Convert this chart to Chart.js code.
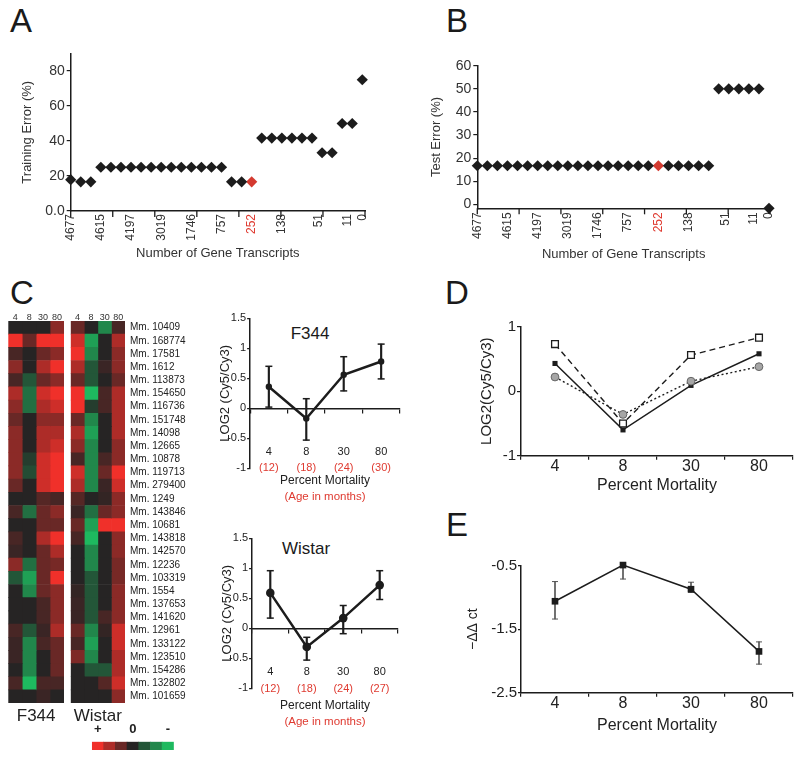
<!DOCTYPE html>
<html>
<head>
<meta charset="utf-8">
<script src="https://cdn.jsdelivr.net/npm/chart.js@4.4.1/dist/chart.umd.min.js"></script>
<style>
body { margin: 0; background: #fff; }
#fig { position: relative; width: 800px; height: 759px; overflow: hidden; font-family: 'Liberation Sans', Arial, Helvetica, sans-serif; color: #1a1a1a; }
#fig canvas { position: absolute; }
.lab { position: absolute; line-height: 1; white-space: nowrap; }
.mid { transform: translate(-50%, -50%); }
</style>
</head>
<body>
<div id="fig">
  <div class="lab" style="left:10px;top:4px;font-size:33px">A</div>
  <div class="lab" style="left:446px;top:4px;font-size:33px">B</div>
  <div class="lab" style="left:10px;top:276px;font-size:33px">C</div>
  <div class="lab" style="left:445px;top:276px;font-size:33px">D</div>
  <div class="lab" style="left:446px;top:508px;font-size:33px">E</div>
  <div class="lab mid" style="left:310px;top:333px;font-size:17px">F344</div>
  <div class="lab mid" style="left:306px;top:548px;font-size:17px">Wistar</div>
</div>
<script>
// ---- data ----
// A / B : error vs number of transcripts kept (30 steps, red = 252 transcripts)
var trainingError = [17.9, 16.7, 16.7, 25, 25, 25, 25, 25, 25, 25, 25, 25, 25, 25, 25, 25,
                     16.7, 16.7, 16.7, 41.7, 41.7, 41.7, 41.7, 41.7, 41.7, 33.3, 33.3, 50, 50, 75];
var testError = [16.7, 16.7, 16.7, 16.7, 16.7, 16.7, 16.7, 16.7, 16.7, 16.7, 16.7, 16.7, 16.7, 16.7, 16.7, 16.7,
                 16.7, 16.7, 16.7, 16.7, 16.7, 16.7, 16.7, 16.7, 50, 50, 50, 50, 50, -1.7];
var highlightIndex = 18;
var geneTickPos = [0, 3, 6, 9, 12, 15, 18, 21, 24.7, 27.5, 29];
var geneTickLabels = ['4677', '4615', '4197', '3019', '1746', '757', '252', '138', '51', '11', '0'];

// C : heat map (+ red, 0 black, - green)
var mortalityCols = ['4', '8', '30', '80'];
var probeIds = ['Mm. 10409', 'Mm. 168774', 'Mm. 17581', 'Mm. 1612', 'Mm. 113873', 'Mm. 154650',
  'Mm. 116736', 'Mm. 151748', 'Mm. 14098', 'Mm. 12665', 'Mm. 10878', 'Mm. 119713', 'Mm. 279400',
  'Mm. 1249', 'Mm. 143846', 'Mm. 10681', 'Mm. 143818', 'Mm. 142570', 'Mm. 12236', 'Mm. 103319',
  'Mm. 1554', 'Mm. 137653', 'Mm. 141620', 'Mm. 12961', 'Mm. 133122', 'Mm. 123510', 'Mm. 154286',
  'Mm. 132802', 'Mm. 101659'];
var f344Expr = [
  [0, 0, 0, 1.5], [3, 1, 3, 3], [0.5, 0, 1, 1.5], [1.5, 0, 2, 3], [0.5, -1, 1, 1.5],
  [2, -1.5, 2.5, 3], [1.5, -1.5, 2, 2.5], [1, 0, 1.5, 1.5], [1.5, 0, 2, 2], [1.5, 0, 2, 2.5],
  [1.5, -0.5, 2.5, 3], [1.5, -0.8, 2.5, 3], [1, 0, 2.5, 3], [0, 0, 0.7, 0.5], [0.5, -1.5, 1, 1.5],
  [0, 0, 1, 1], [0.5, 0, 2, 3], [0.3, 0, 1, 2], [1.5, -1.5, 1, 1.2], [-1, -2.5, 1, 3],
  [0, -2, 1, 1.5], [0, 0, 0.5, 1.5], [0, 0, 0.5, 1.5], [0.5, -1, 0.3, 2], [0.3, -2, 0.5, 1],
  [0.3, -2, 0, 1], [0, -2, 0, 1], [0.5, -3, 0.5, 0.5], [0, 0, 0.3, 0]
];
var wistarExpr = [
  [1, 0, -2, 0.5], [2.5, -2.5, 0, 2], [3, -2, 0, 1.5], [2, -1, 0.3, 1.5], [1, -1, 0, 1],
  [3, -3, 0.5, 2], [3, -0.5, 0.5, 2], [1, -2, 0, 2], [2, -2.5, 0, 2], [1.5, -2, 0, 1.5],
  [0.5, -2, 0.5, 1.5], [2.5, -2, 1, 3], [2, -2, 0.3, 2.5], [0.7, 0, 0.2, 1.5], [0.3, -1.5, 1, 1.5],
  [1, -2.5, 3, 3], [0.5, -3, 0, 1.5], [0, -2, 0, 1.5], [0, -2, 0, 1.2], [0, -1, 0, 1.2],
  [0.2, -1, 0, 1.5], [0.3, -1, 0, 1.5], [0.3, -1, 0.5, 1.5], [1, -2, 0.2, 2.5], [0.5, -2.5, 0, 2.5],
  [1.3, -2, 0, 2], [0, -1, -1, 2], [0, 0, 0.7, 2.5], [0, 0, 0, 1.5]
];
var scaleLabels = ['+', '', '', '0', '', '', '-'];
var scaleValues = [3, 2, 1, 0, -1, -2, -3];

// C : line plots
var mortality = ['4', '8', '30', '80'];
var f344Age = ['(12)', '(18)', '(24)', '(30)'];
var f344Mean = [0.36, -0.17, 0.56, 0.78];
var f344Upper = [0.70, 0.16, 0.86, 1.07];
var f344Lower = [0.02, -0.53, 0.29, 0.49];
var wistarAge = ['(12)', '(18)', '(24)', '(27)'];
var wistarMean = [0.59, -0.31, 0.17, 0.72];
var wistarUpper = [0.96, -0.15, 0.38, 0.96];
var wistarLower = [0.17, -0.53, -0.09, 0.48];

// D : three transcripts
var openSquare = [0.73, -0.50, 0.56, 0.83];
var filledSquare = [0.43, -0.60, 0.09, 0.58];
var grayCircle = [0.22, -0.36, 0.155, 0.38];

// E : qPCR
var ddctMean = [-1.06, -0.49, -0.87, -1.85];
var ddctUpper = [-0.75, -0.28, -0.76, -1.70];
var ddctLower = [-1.34, -0.71, -0.92, -2.05];

var INK = '#1c1c1c';
var RED = '#df3a30';

Chart.defaults.font.family = "'Liberation Sans', Arial, Helvetica, sans-serif";
Chart.defaults.color = '#222';
Chart.defaults.animation = false;
Chart.defaults.responsive = false;
Chart.defaults.plugins.legend.display = false;
Chart.defaults.plugins.tooltip.enabled = false;

function makeCanvas(left, top, w, h) {
  var c = document.createElement('canvas');
  c.width = w; c.height = h;
  c.style.left = left + 'px'; c.style.top = top + 'px';
  c.style.width = w + 'px'; c.style.height = h + 'px';
  document.getElementById('fig').appendChild(c);
  return c;
}

function fixedTicks(list) {
  return function(s) { s.ticks = list.map(function(v) { return {value: v}; }); };
}

// evenly spaced tick marks under the x axis of A and B
var axisMarks = {
  id: 'axisMarks',
  afterDraw: function(chart) {
    var x = chart.scales.x, ctx = chart.ctx;
    ctx.save();
    ctx.strokeStyle = INK; ctx.lineWidth = 1.3;
    for (var k = 0; k <= 7; k++) {
      var px = x.getPixelForValue(x.max * k / 7);
      ctx.beginPath(); ctx.moveTo(px, x.top); ctx.lineTo(px, x.top + 6); ctx.stroke();
    }
    ctx.restore();
  }
};

function scatterPanel(o) {
  var black = [], red = [];
  o.values.forEach(function(v, i) {
    (i === highlightIndex ? red : black).push({x: i, y: v});
  });
  var pt = {pointStyle: 'rectRot', pointRadius: 5.6, borderWidth: 0, clip: false};
  return new Chart(makeCanvas(o.left, o.top, o.w, o.h), {
    type: 'scatter',
    data: {datasets: [
      Object.assign({data: black, backgroundColor: INK, borderColor: INK}, pt),
      Object.assign({data: red, backgroundColor: '#d43a30', borderColor: '#d43a30'}, pt)
    ]},
    options: {
      layout: {padding: o.padding},
      scales: {
        x: {
          type: 'linear', min: 0, max: o.xMax,
          grid: {display: false, drawTicks: false},
          border: {color: INK, width: 1.5},
          afterBuildTicks: fixedTicks(geneTickPos),
          afterFit: function(s) { s.height = o.xAxisH; },
          ticks: {
            autoSkip: false, minRotation: 90, maxRotation: 90, padding: o.xPad,
            font: {size: 12},
            color: function(c) { return c.tick && c.tick.value === highlightIndex ? RED : '#333'; },
            callback: function(v, i) { return geneTickLabels[i]; }
          },
          title: {display: true, text: 'Number of Gene Transcripts', font: {size: 13}, color: '#333', padding: {top: 0, bottom: 4}}
        },
        y: {
          min: o.yMin, max: o.yMax,
          grid: {drawOnChartArea: false, tickLength: 4, color: INK, lineWidth: 1.2},
          border: {color: INK, width: 1.5},
          afterBuildTicks: fixedTicks(o.yTicks),
          afterFit: function(s) { s.width = o.yAxisW; },
          ticks: {padding: 2, font: {size: 14}, color: '#333', callback: o.yLabel},
          title: {display: true, text: o.yTitle, font: {size: 13}, color: '#333', padding: {top: o.yTitlePad, bottom: 0}}
        }
      }
    },
    plugins: [axisMarks]
  });
}

scatterPanel({
  left: 0, top: 40, w: 395, h: 230, values: trainingError,
  padding: {left: 0, top: 13.5, right: 30, bottom: 5},
  xMax: 29.27, xAxisH: 54, xPad: 3, yAxisW: 70.7,
  yMin: 0, yMax: 90, yTicks: [0, 10, 20, 30, 40, 50, 60, 70, 80, 90],
  yLabel: function(v) { return v === 0 ? '0.0' : (v % 20 === 0 && v < 90 ? String(v) : ''); },
  yTitle: 'Training Error (%)', yTitlePad: 20
});

scatterPanel({
  left: 400, top: 40, w: 400, h: 230, values: testError,
  padding: {left: 0, top: 25.7, right: 30, bottom: 4.2},
  xMax: 29.1, xAxisH: 57.5, xPad: 4, yAxisW: 77.3,
  yMin: -1.7, yMax: 60, yTicks: [0, 10, 20, 30, 40, 50, 60],
  yLabel: function(v) { return String(v); },
  yTitle: 'Test Error (%)', yTitlePad: 29
});

// ---- C : heat maps ----
function exprColor(v) {
  var zero = [38, 36, 36], hi = [240, 48, 42], lo = [30, 185, 95];
  var t = Math.min(Math.abs(v) / 3, 1), end = v >= 0 ? hi : lo;
  return 'rgb(' + zero.map(function(z, k) { return Math.round(z + (end[k] - z) * t); }).join(',') + ')';
}

function heatmapPanel(o) {
  return new Chart(makeCanvas(o.left, o.top, o.w, o.h), {
    type: 'bar',
    data: {
      labels: probeIds,
      datasets: mortalityCols.map(function(col, j) {
        return {
          data: probeIds.map(function() { return [j, j + 1]; }),
          backgroundColor: o.values.map(function(row) { return exprColor(row[j]); }),
          borderWidth: 0, grouped: false, categoryPercentage: 1, barPercentage: 1
        };
      })
    },
    options: {
      indexAxis: 'y',
      layout: {padding: o.padding},
      scales: {
        x: {
          type: 'linear', position: 'top', min: 0, max: 4,
          grid: {display: false, drawTicks: false}, border: {display: false},
          afterBuildTicks: fixedTicks([0.5, 1.5, 2.5, 3.5]),
          afterFit: function(s) { s.height = 10; },
          ticks: {padding: -2, font: {size: 9}, color: '#333', callback: function(v, i) { return mortalityCols[i]; }}
        },
        y: {
          display: o.showRows, position: 'right',
          grid: {display: false, drawTicks: false}, border: {display: false},
          afterFit: function(s) { if (o.showRows) s.width = 75; },
          ticks: {autoSkip: false, padding: 5, font: {size: 10}, color: '#222'}
        }
      },
      plugins: {
        title: {display: true, text: o.title, position: 'bottom', fullSize: false,
                font: {size: 17, weight: 'normal'}, color: '#222', padding: {top: 3.5, bottom: 0}}
      }
    }
  });
}

heatmapPanel({left: 0, top: 300, w: 72, h: 427, values: f344Expr, showRows: false, title: 'F344',
              padding: {left: 8.3, right: 8, top: 11, bottom: 0}});
heatmapPanel({left: 66, top: 300, w: 134, h: 427, values: wistarExpr, showRows: true, title: 'Wistar',
              padding: {left: 4.7, right: 0, top: 11, bottom: 0}});

// colour key
new Chart(makeCanvas(90, 710, 84, 40), {
  type: 'bar',
  data: {
    labels: scaleLabels,
    datasets: [{
      data: scaleValues.map(function() { return [0, 1]; }),
      backgroundColor: scaleValues.map(exprColor),
      borderWidth: 0, categoryPercentage: 1, barPercentage: 1
    }]
  },
  options: {
    layout: {padding: {top: 9.7, left: 0, right: 0, bottom: 0}},
    scales: {
      x: {position: 'top', grid: {display: false, drawTicks: false}, border: {display: false},
          afterFit: function(s) { s.height = 22; },
          ticks: {autoSkip: false, maxRotation: 0, padding: 4, font: {size: 13, weight: 'bold'}, color: '#222'}},
      y: {display: false, min: 0, max: 1}
    }
  }
});

// ---- line plots with error bars ----
function linePanel(o) {
  var datasets = o.series.slice();
  if (o.upper) {
    var errStyle = {type: 'line', showLine: false, pointStyle: 'line', pointRadius: o.capR,
                    pointBorderColor: o.errColor, pointBorderWidth: o.errW, borderColor: o.errColor,
                    xAxisID: 'x', order: 1, clip: false};
    datasets.push({type: 'bar', data: o.lower.map(function(lo, i) { return [lo, o.upper[i]]; }),
                   backgroundColor: o.errColor, barThickness: o.errW, xAxisID: 'x', order: 2});
    datasets.push(Object.assign({data: o.upper}, errStyle));
    datasets.push(Object.assign({data: o.lower}, errStyle));
  }
  var scales = {
    x: {
      type: 'category', labels: mortality, offset: true, position: o.xPosition,
      grid: {offset: true, drawOnChartArea: false, tickLength: 4, color: INK, lineWidth: 1.2},
      border: {color: INK, width: o.axisW},
      afterFit: o.xAxisH ? function(s) { s.height = o.xAxisH; } : undefined,
      ticks: {padding: o.xPad, font: {size: o.xFont}, color: '#222'},
      title: o.xTitle ? {display: true, text: o.xTitle, font: {size: 16}, color: '#222', padding: {top: 0, bottom: 0}} : {display: false}
    },
    y: {
      min: o.yMin, max: o.yMax,
      grid: {drawOnChartArea: false, tickLength: o.yTickLen, color: INK, lineWidth: 1.2},
      border: {color: INK, width: o.axisW},
      afterBuildTicks: fixedTicks(o.yTicks),
      afterFit: function(s) { s.width = o.yAxisW; },
      ticks: {padding: 1, font: {size: o.yFont}, color: '#222', callback: function(v) { return String(v); }},
      title: {display: true, text: o.yTitle, font: {size: o.yTitleFont}, color: '#222', padding: {top: o.yTitlePad, bottom: 0}}
    }
  };
  if (o.ages) {
    scales.x2 = {
      type: 'category', axis: 'x', labels: o.ages, offset: true, position: {y: 0},
      grid: {display: false, drawTicks: false}, border: {display: false},
      ticks: {padding: o.agePad, font: {size: o.xFont}, color: RED}
    };
  }
  var plugins = {};
  if (o.ages) {
    plugins.subtitle = {display: true, text: 'Percent Mortality', position: 'bottom', fullSize: false,
                        font: {size: 12}, color: '#222', padding: {top: o.subPad, bottom: 0}};
    plugins.title = {display: true, text: '(Age in months)', position: 'bottom', fullSize: false,
                     font: {size: 11.5, weight: 'normal'}, color: RED, padding: {top: o.titlePad, bottom: 0}};
  }
  return new Chart(makeCanvas(o.left, o.top, o.w, o.h), {
    type: 'line',
    data: {datasets: datasets},
    options: {layout: {padding: o.padding}, scales: scales, plugins: plugins}
  });
}

function meanLine(values, width, style, radius) {
  return {data: values, xAxisID: 'x', borderColor: INK, borderWidth: width, pointStyle: style,
          pointRadius: radius, pointBackgroundColor: INK, pointBorderColor: INK, pointBorderWidth: 0,
          order: 0, clip: false};
}

var ratioAxis = {yMin: -1, yMax: 1.5, yTicks: [-1, -0.5, 0, 0.5, 1, 1.5], yTickLen: 3, yFont: 11,
                 yTitle: 'LOG2 (Cy5/Cy3)', yTitleFont: 13, xFont: 11, xPosition: {y: 0}, axisW: 1.5,
                 errColor: INK, errW: 1.5, capR: 3.5};

linePanel(Object.assign({}, ratioAxis, {
  left: 200, top: 300, w: 250, h: 210,
  padding: {left: 0, top: 18.3, right: 4.3, bottom: 6.1},
  series: [meanLine(f344Mean, 2.5, 'circle', 3.2)],
  upper: f344Upper, lower: f344Lower, ages: f344Age,
  yAxisW: 35.7, yTitlePad: 3.2, xPad: 32.8, agePad: 52.8, subPad: 5.2, titlePad: 2.2
}));

linePanel(Object.assign({}, ratioAxis, {
  left: 200, top: 520, w: 250, h: 215,
  padding: {left: 0, top: 18.3, right: 5, bottom: 6.4},
  series: [meanLine(wistarMean, 2.5, 'circle', 4.3)],
  upper: wistarUpper, lower: wistarLower, ages: wistarAge,
  yAxisW: 35, yTitlePad: 2.2, xPad: 33.4, agePad: 54, subPad: 10.2, titlePad: 1.9
}));

// D
linePanel({
  left: 440, top: 300, w: 360, h: 200,
  padding: {left: 0, top: 26.7, right: 7, bottom: 4.4},
  series: [
    {data: openSquare, xAxisID: 'x', borderColor: INK, borderWidth: 1.4, borderDash: [6, 4],
     pointStyle: 'rect', pointRadius: 4.8, pointBackgroundColor: '#fff', pointBorderColor: INK, pointBorderWidth: 1.3, clip: false},
    {data: grayCircle, xAxisID: 'x', borderColor: INK, borderWidth: 1.4, borderDash: [2, 2.5],
     pointStyle: 'circle', pointRadius: 3.9, pointBackgroundColor: '#a6a6a6', pointBorderColor: '#666', pointBorderWidth: 1, clip: false},
    {data: filledSquare, xAxisID: 'x', borderColor: INK, borderWidth: 1.5,
     pointStyle: 'rect', pointRadius: 3.6, pointBackgroundColor: INK, pointBorderWidth: 0, clip: false}
  ],
  xPosition: 'bottom', xAxisH: 39.9, xPad: -3, xFont: 16, xTitle: 'Percent Mortality', axisW: 1.5,
  yMin: -1, yMax: 1, yTicks: [-1, 0, 1], yTickLen: 4, yFont: 15, yAxisW: 81,
  yTitle: 'LOG2(Cy5/Cy3)', yTitleFont: 15, yTitlePad: 37.7
});

// E
linePanel({
  left: 440, top: 530, w: 360, h: 215,
  padding: {left: 0, top: 35.7, right: 7, bottom: 9.4},
  series: [meanLine(ddctMean, 1.5, 'rect', 4.7)],
  upper: ddctUpper, lower: ddctLower, errColor: '#555', errW: 1, capR: 3,
  xPosition: 'bottom', xAxisH: 42.9, xPad: -3, xFont: 16, xTitle: 'Percent Mortality', axisW: 1.5,
  yMin: -2.5, yMax: -0.5, yTicks: [-2.5, -1.5, -0.5], yTickLen: 3, yFont: 15, yAxisW: 81,
  yTitle: '\u2212\u0394\u0394 ct', yTitleFont: 14, yTitlePad: 24.6
});
</script>
</body>
</html>
